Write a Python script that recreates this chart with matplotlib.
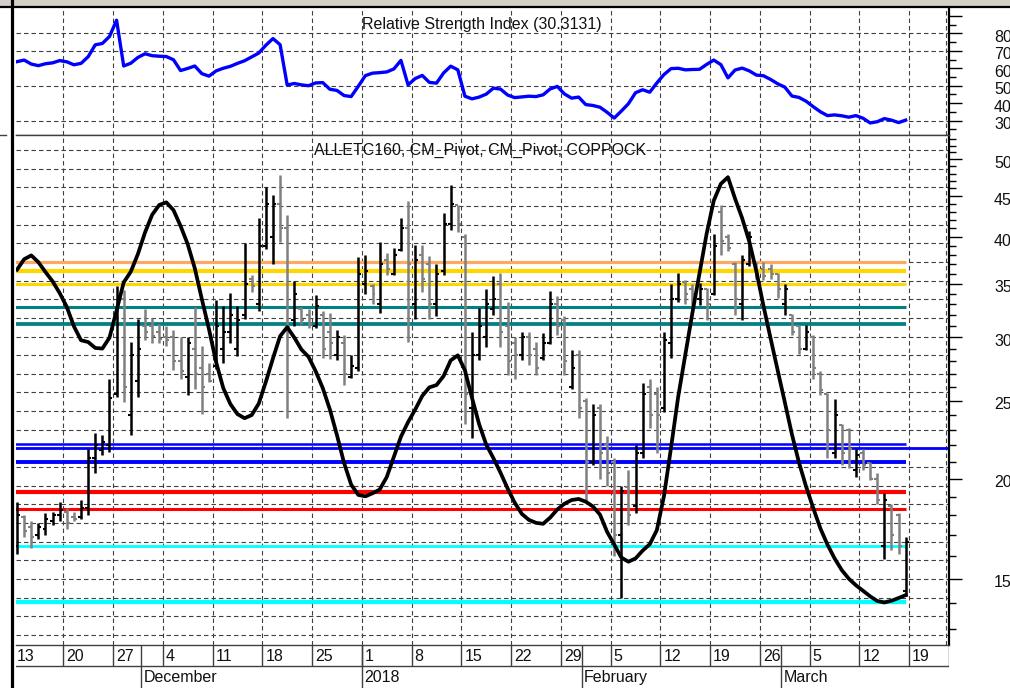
import numpy as np
import pandas as pd
import matplotlib
matplotlib.use('Agg')
import matplotlib.pyplot as plt
import matplotlib.dates as mdates
import matplotlib.transforms as mtransforms
from matplotlib.ticker import FixedLocator, FixedFormatter, NullFormatter
from matplotlib.lines import Line2D
from matplotlib.patches import Rectangle

plt.rcParams['font.family'] = ['Liberation Sans', 'DejaVu Sans']
plt.rcParams['lines.scale_dashes'] = False

# ---------------- data ----------------
start_date = '2017-11-13'
n_days = 126
dates = pd.date_range(start_date, periods=n_days, freq='D')

opens = [16.5, 17.9, 17.4, 17.0, 17.3, 17.7, 18.0, 18.2, 17.9, 17.9,
         18.4, 21.2, 21.7, 22.0, 25.5, 33.5, 24.0, 26.5, 31.0, 31.0,
         30.5, 30.0, 30.0, 28.0, 26.8, 29.0, 27.5, 27.0, 27.6, 29.0,
         30.5, 29.0, 32.0, 35.5, 33.0, 39.0, 40.0, 44.0, 41.0, 31.5,
         32.5, 32.0, 31.0, 32.0, 30.5, 28.5, 29.5, 26.8, 27.5, 35.0,
         34.8, 33.0, 37.5, 36.0, 38.5, 41.0, 33.0, 38.0, 37.0, 33.0,
         36.3, 41.5, 43.8, 40.0, 24.5, 28.5, 30.0, 32.5, 35.0, 31.0,
         29.5, 28.5, 30.0, 29.0, 28.3, 29.5, 33.0, 31.5, 26.0, 28.5,
         25.0, 21.0, 24.5, 22.0, 21.0, 17.0, 19.5, 18.5, 21.5, 26.0,
         25.5, 24.5, 29.5, 33.5, 35.2, 34.5, 33.5, 34.5, 34.0, 43.0,
         40.0, 37.0, 33.0, 37.0, 37.0, 36.5, 36.5, 36.0, 33.0, 32.0,
         31.0, 29.0, 30.0, 27.0, 25.5, 21.5, 23.3, 23.0, 20.5, 21.5,
         20.9, 20.0, 16.5, 18.5, 18.0, 14.5]
highs = [18.7, 18.0, 17.7, 17.6, 18.1, 18.2, 18.7, 18.4, 18.2, 18.8,
         21.8, 22.8, 22.7, 26.6, 34.8, 34.4, 29.6, 31.6, 32.5, 31.7,
         31.2, 31.0, 30.6, 30.0, 30.0, 32.7, 29.3, 27.9, 33.4, 32.8,
         34.1, 32.8, 39.3, 35.9, 42.2, 46.2, 45.1, 47.8, 42.6, 35.3,
         32.7, 32.5, 33.9, 32.4, 32.2, 30.6, 30.2, 28.5, 37.8, 38.0,
         35.0, 39.4, 38.2, 38.8, 42.2, 44.3, 39.1, 39.1, 37.9, 37.0,
         42.9, 46.4, 43.9, 40.4, 30.5, 32.6, 34.5, 35.8, 36.1, 33.2,
         30.0, 30.5, 30.5, 29.6, 30.4, 34.3, 33.8, 31.9, 28.9, 28.9,
         25.2, 24.8, 24.8, 22.6, 21.2, 19.6, 20.5, 22.0, 26.3, 26.6,
         26.0, 30.5, 35.0, 36.1, 35.4, 35.0, 35.1, 34.6, 40.3, 43.9,
         40.3, 37.2, 38.0, 40.7, 37.2, 37.2, 37.0, 36.1, 35.0, 32.1,
         31.1, 31.1, 30.2, 27.2, 25.6, 25.1, 23.4, 23.1, 21.8, 21.8,
         21.0, 20.3, 19.2, 18.6, 18.1, 16.9]
lows = [16.1, 16.9, 16.4, 16.8, 17.0, 17.5, 17.7, 17.3, 17.7, 17.8,
        18.0, 20.3, 21.4, 21.6, 25.3, 24.9, 22.7, 25.3, 29.8, 29.5,
        29.5, 29.3, 27.3, 26.6, 25.4, 25.9, 24.1, 26.4, 27.4, 27.9,
        29.5, 28.4, 31.6, 34.2, 32.4, 38.6, 37.0, 39.4, 23.8, 31.0,
        31.2, 30.8, 30.8, 28.3, 28.2, 28.1, 26.2, 26.7, 27.2, 34.0,
        33.0, 32.2, 35.9, 35.9, 38.4, 29.6, 31.6, 34.2, 31.6, 31.9,
        35.9, 40.8, 40.6, 23.4, 22.5, 28.1, 29.2, 32.0, 29.2, 26.9,
        26.6, 28.1, 27.7, 26.9, 28.1, 29.4, 30.2, 26.9, 25.9, 23.8,
        18.7, 20.8, 20.0, 19.6, 16.0, 14.2, 17.5, 18.1, 21.2, 23.1,
        21.5, 24.2, 28.3, 33.2, 33.0, 32.9, 32.9, 31.5, 33.9, 38.0,
        38.4, 32.0, 31.5, 36.8, 35.5, 35.4, 35.5, 33.6, 32.0, 30.2,
        28.6, 28.9, 26.6, 25.4, 21.2, 21.2, 20.8, 20.6, 20.1, 20.5,
        19.9, 18.6, 15.9, 16.3, 16.1, 14.3]
closes = [18.0, 17.2, 16.9, 17.4, 17.8, 18.0, 18.3, 17.6, 17.8, 18.4,
          21.2, 22.0, 22.2, 25.2, 33.8, 26.0, 28.5, 29.0, 30.5, 30.1,
          29.9, 29.8, 28.0, 27.2, 29.5, 27.0, 26.0, 26.5, 31.0, 30.5,
          32.0, 31.5, 35.0, 34.8, 39.0, 44.0, 44.0, 41.0, 31.0, 34.0,
          31.5, 31.2, 32.8, 29.0, 29.5, 30.0, 27.0, 27.6, 36.0, 36.3,
          34.0, 37.0, 36.5, 38.0, 41.0, 37.0, 37.5, 35.5, 33.0, 36.0,
          41.5, 44.0, 41.5, 25.5, 28.5, 31.0, 33.0, 33.5, 30.5, 28.0,
          28.5, 30.0, 28.5, 27.5, 29.5, 33.0, 31.0, 28.0, 27.5, 24.5,
          21.0, 24.0, 21.5, 20.3, 17.0, 19.3, 18.0, 21.5, 25.5, 24.0,
          24.0, 29.8, 33.5, 35.0, 34.0, 34.0, 34.5, 33.0, 39.0, 39.5,
          38.8, 33.5, 37.5, 40.0, 36.0, 35.8, 36.0, 34.5, 34.5, 30.5,
          29.0, 30.5, 27.5, 25.8, 23.0, 24.0, 21.5, 21.8, 21.4, 20.8,
          20.0, 18.8, 18.8, 17.0, 16.5, 16.7]

coppock = [36.43, 37.54, 37.95, 37.22, 36.18, 35.23, 34.06, 32.73, 30.96, 29.75,
           29.6, 29.1, 29.05, 29.97, 32.4, 35.12, 36.22, 38.1, 40.53, 42.64,
           43.86, 44.19, 43.22, 41.3, 39.2, 36.58, 33.46, 30.71, 27.94, 25.95,
           24.78, 24.07, 23.79, 24.0, 24.81, 26.41, 28.25, 30.1, 30.89, 29.98,
           28.97, 28.37, 27.23, 25.94, 24.4, 22.66, 20.92, 19.66, 19.09, 19.01,
           19.18, 19.38, 20.09, 21.29, 22.56, 23.52, 24.38, 25.36, 25.99, 26.16,
           26.85, 28.08, 28.49, 27.29, 25.21, 23.38, 22.05, 21.22, 20.35, 19.45,
           18.67, 18.08, 17.77, 17.62, 17.57, 17.89, 18.31, 18.61, 18.81, 18.87,
           18.72, 18.47, 18.04, 17.17, 16.56, 15.95, 15.76, 15.91, 16.27, 16.57,
           17.26, 19.03, 21.88, 25.30, 28.53, 32.19, 36.05, 40.39, 44.4, 46.6,
           47.5, 44.66, 42.22, 39.49, 36.25, 32.83, 29.9, 27.28, 24.9, 22.71,
           20.93, 19.54, 18.38, 17.34, 16.55, 15.91, 15.39, 15.01, 14.73, 14.50,
           14.27, 14.08, 14.02, 14.09, 14.20, 14.32]

rsi = [63.8, 64.7, 62.4, 61.5, 62.6, 63.1, 64.4, 63.7, 62.0, 62.8,
       66.6, 73.4, 74.2, 78.2, 87.5, 61.3, 62.9, 66.2, 68.3, 67.2,
       66.9, 66.7, 64.9, 58.7, 59.9, 61.3, 56.9, 55.5, 58.5, 60.0,
       61.1, 62.8, 64.3, 66.5, 68.7, 73.2, 77.0, 73.5, 50.4, 51.3,
       50.5, 50.0, 51.6, 51.8, 48.0, 47.3, 44.4, 43.8, 49.7, 55.8,
       57.2, 57.5, 57.9, 59.6, 64.5, 50.5, 54.1, 55.9, 51.9, 51.5,
       57.3, 61.2, 59.1, 44.0, 42.5, 43.5, 45.2, 48.6, 48.1, 44.7,
       43.2, 43.6, 44.0, 43.8, 44.8, 48.2, 49.6, 45.3, 42.9, 43.5,
       39.2, 38.7, 37.7, 34.8, 31.5, 35.5, 39.7, 46.0, 47.7, 46.3,
       51.6, 56.4, 59.8, 60.0, 59.1, 59.3, 59.4, 62.2, 64.7, 62.1,
       54.5, 59.0, 60.1, 58.5, 56.1, 55.7, 53.6, 51.1, 49.2, 44.1,
       43.3, 41.1, 38.0, 35.1, 32.9, 33.3, 32.8, 32.0, 32.9, 31.4,
       28.7, 29.4, 31.2, 30.3, 28.9, 30.31]

pivot_levels = [37.27, 36.29, 34.93, 32.76, 31.17, 22.07, 21.82, 21.0, 19.23, 18.35, 16.49, 14.03]
pivot_colors = ['#ffa860', '#ffd700', '#ffd700', '#008080', '#008080', '#0000ff',
                '#0000ff', '#0000ff', '#ff0000', '#ff0000', '#00ffff', '#00ffff']
pivot_widths = [2.3, 3.0, 2.2, 2.2, 2.7, 1.8, 2.0, 2.8, 3.0, 2.2, 2.0, 3.1]
pivot_full = [False, False, False, False, False, False, True, False, False, False, False, False]

week_ticks = pd.date_range('2017-11-13', '2018-03-19', freq='7D')
week_labels = [str(d.day) for d in week_ticks]
month_starts = pd.to_datetime(['2017-12-01', '2018-01-01', '2018-02-01', '2018-03-01'])
month_labels = ['December', '2018', 'February', 'March']

rsi_title = 'Relative Strength Index (30.3131)'
main_title = 'ALLETC160, CM_Pivot, CM_Pivot, COPPOCK'

# ---------------- layout ----------------
W, H = 1010, 688
fig = plt.figure(figsize=(W / 100, H / 100), dpi=100)
fig.patch.set_facecolor('white')

def fx(px):
    return px / W

def fy(py):
    return 1 - py / H

L, R = 16, 949
TOP_RSI, MID, BOT, LAB_MID = 8, 135, 645, 666
PX_PER_DAY = 7.109
ORIGIN_PX = 13.5

ax_rsi = fig.add_axes([fx(L), fy(MID), (R - L) / W, (MID - TOP_RSI) / H])
ax = fig.add_axes([fx(L), fy(BOT), (R - L) / W, (BOT - MID) / H])
ax_lab = fig.add_axes([fx(L), 0, (R - L) / W, (H - BOT) / H])

t0 = mdates.date2num(pd.Timestamp(start_date))
x0 = t0 + (L - ORIGIN_PX) / PX_PER_DAY
x1 = x0 + (R - L) / PX_PER_DAY
for a in (ax_rsi, ax, ax_lab):
    a.set_xlim(x0, x1)

bar_x = mdates.date2num(dates + pd.Timedelta(hours=12))
wk_x = mdates.date2num(week_ticks)
mo_x = mdates.date2num(month_starts)

grid_kw = dict(color='#404040', lw=0.8, ls=(0, (3.2, 2.2)), zorder=0.5)

# ---------------- RSI panel ----------------
ax_rsi.set_ylim(21.8, 94.5)
for v in (30, 50, 70, 80):
    ax_rsi.axhline(v, **grid_kw)
for xv in wk_x:
    ax_rsi.axvline(xv, **grid_kw)
ax_rsi.axvline(x0 + (946 - L) / PX_PER_DAY, **grid_kw)
ax_rsi.plot(bar_x, rsi, color='#0000ff', lw=2.4, zorder=3, solid_joinstyle='round')
ax_rsi.text(0.4995, 0.874, rsi_title, transform=ax_rsi.transAxes, ha='center', va='center',
            fontsize=11.5, color='#111111')

# ---------------- main panel ----------------
ax.set_yscale('log')
ax.set_ylim(12.41, 53.61)
for k in range(27):
    yf = (BOT - (150 + k * 18.65)) / (BOT - MID)
    ax.plot([0, 1], [yf, yf], transform=ax.transAxes, **grid_kw)
for xv in wk_x:
    ax.axvline(xv, **grid_kw)
ax.axvline(x0 + (946 - L) / PX_PER_DAY, **grid_kw)

for lev, col, lw, full in zip(pivot_levels, pivot_colors, pivot_widths, pivot_full):
    if full:
        ax.axhline(lev, color=col, lw=lw, zorder=1.5)
    else:
        ax.hlines(lev, t0, bar_x[-1], color=col, lw=lw, zorder=1.5)

o = np.array(opens); h = np.array(highs); lo = np.array(lows); c = np.array(closes)
bar_cols = np.where(c >= o, '#000000', '#808080')
tick = 0.42
ax.vlines(bar_x, lo, h, colors=bar_cols, lw=1.8, zorder=2)
ax.hlines(o, bar_x - tick, bar_x, colors=bar_cols, lw=1.5, zorder=2)
ax.hlines(c, bar_x, bar_x + tick, colors=bar_cols, lw=1.5, zorder=2)

ax.plot(bar_x, coppock, color='black', lw=2.7, zorder=4, solid_joinstyle='round')
ax.text(0.497, 0.9692, main_title, transform=ax.transAxes, ha='center', va='center',
        fontsize=11.5, color='#111111')

# ---------------- axes styling ----------------
for a in (ax_rsi, ax):
    a.tick_params(axis='x', bottom=False, labelbottom=False, top=False)
    a.spines['left'].set_visible(False)
    a.spines['right'].set_color('black')
    a.spines['right'].set_linewidth(1.6)
    for s in ('top', 'bottom'):
        a.spines[s].set_color('#404040')
        a.spines[s].set_linewidth(1.0)
    a.yaxis.tick_right()
    a.tick_params(axis='y', which='major', direction='out', length=9.4, width=1.0,
                  pad=23, labelsize=11.5, labelcolor='#111111', left=False)
    a.tick_params(axis='y', which='minor', direction='out', length=5.0, width=1.0, left=False)

ax_rsi.spines['top'].set_visible(False)
ax_rsi.yaxis.set_major_locator(FixedLocator([30, 40, 50, 60, 70, 80, 90]))
ax_rsi.yaxis.set_major_formatter(FixedFormatter(['30', '40', '50', '60', '70', '80', '']))
ax_rsi.yaxis.set_minor_locator(FixedLocator([25, 35, 45, 55, 65, 75, 85]))
ax_rsi.yaxis.set_minor_formatter(NullFormatter())

main_major = [15, 20, 25, 30, 35, 40, 45, 50]
ax.yaxis.set_major_locator(FixedLocator(main_major))
ax.yaxis.set_major_formatter(FixedFormatter([str(v) for v in main_major]))
ax.yaxis.set_minor_locator(FixedLocator([v for v in range(13, 54) if v not in main_major]))
ax.yaxis.set_minor_formatter(NullFormatter())

# shift right tick labels slightly downward, as in the reference
shift = mtransforms.ScaledTranslation(0, -2.5 / 100, fig.dpi_scale_trans)
for a in (ax_rsi, ax):
    for tk in a.yaxis.get_major_ticks():
        tk.label2.set_transform(tk.label2.get_transform() + shift)

# ---------------- date label rows ----------------
ax_lab.set_ylim(0, 1)
ax_lab.axis('off')
row = (H - LAB_MID) / (H - BOT)
ax_lab.plot([0, 1], [row, row], transform=ax_lab.transAxes, color='#404040', lw=1.0)
ax_lab.vlines(wk_x, row, 1, color='#404040', lw=1.0)
ax_lab.vlines(mo_x, 0, 1, color='#404040', lw=1.0)
ax_lab.plot([1, 1], [row, 1], transform=ax_lab.transAxes, color='#404040', lw=1.0)
off_day = mtransforms.offset_copy(ax_lab.transData, fig=fig, x=3, y=0, units='dots')
off_mon = mtransforms.offset_copy(ax_lab.transData, fig=fig, x=2, y=0, units='dots')
for xv, lab in zip(wk_x, week_labels):
    ax_lab.text(xv, (1 + row) / 2 - 0.02, lab, transform=off_day, ha='left', va='center',
                fontsize=11.5, color='#111111', clip_on=True)
for xv, lab in zip(mo_x, month_labels):
    ax_lab.text(xv, row / 2 - 0.02, lab, transform=off_mon, ha='left', va='center',
                fontsize=11.5, color='#111111', clip_on=True)
for t in ax_lab.texts:
    t.set_clip_box(ax_lab.bbox)

# ---------------- frame decorations ----------------
fig.add_artist(Rectangle((0, fy(6)), 1, 6 / H, transform=fig.transFigure,
                         facecolor='#d4d0c8', edgecolor='none'))
fig.add_artist(Line2D([0, 1], [fy(7), fy(7)], transform=fig.transFigure, color='black', lw=1.6))
fig.add_artist(Line2D([fx(11.5), fx(11.5)], [0, 1], transform=fig.transFigure, color='black', lw=2.3))
fig.add_artist(Line2D([0, fx(6)], [fy(MID), fy(MID)], transform=fig.transFigure, color='#404040', lw=1.0))

fig.savefig('out.png', dpi=100, facecolor='white')
